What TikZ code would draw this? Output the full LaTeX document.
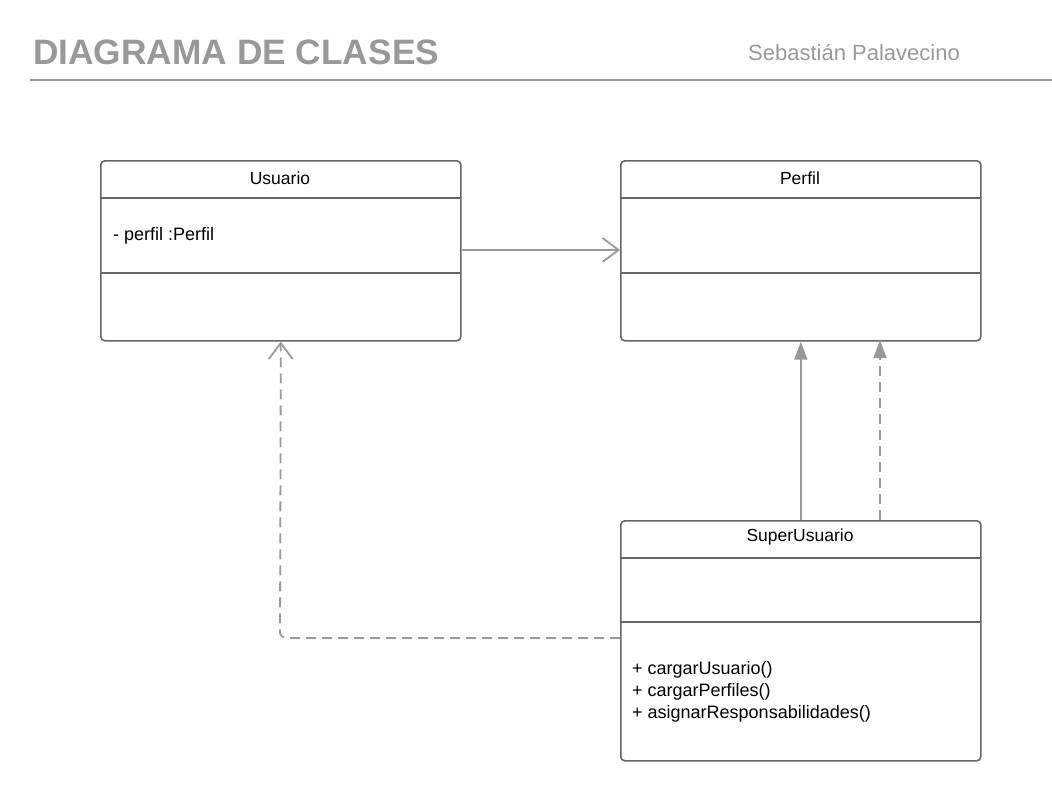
\documentclass[tikz,border=0pt]{standalone}
\usepackage{fontspec}
\setmainfont{Liberation Sans}
\usetikzlibrary{arrows.meta}
\definecolor{boxline}{HTML}{666666}
\definecolor{arrline}{HTML}{999999}
\definecolor{titlecol}{HTML}{999999}
\begin{document}
\begin{tikzpicture}[x=1pt,y=-1pt,
  classbox/.style={draw=boxline,line width=1.6pt,rounded corners=4pt,inner sep=0pt,anchor=north west},
  divider/.style={draw=boxline,line width=1.6pt},
  ctitle/.style={font=\fontsize{17.5}{21}\selectfont,text=black,anchor=center},
  ctext/.style={font=\fontsize{18}{22}\selectfont,text=black,anchor=north west,align=left,inner sep=0pt},
  assoc/.style={draw=arrline,line width=1.8pt,-{Straight Barb[length=16pt,width=24pt,line width=1.8pt]}},
  realize/.style={draw=arrline,line width=1.8pt,dash pattern=on 10pt off 6pt,rounded corners=6pt,-{Straight Barb[length=16pt,width=24pt,line width=1.8pt]}},
  inherit/.style={draw=arrline,line width=1.8pt,-{Triangle[length=18pt,width=13pt]}},
  depend/.style={draw=arrline,line width=1.8pt,dash pattern=on 10pt off 6pt,-{Triangle[length=18pt,width=13pt]}}
]
\useasboundingbox (0,0) rectangle (1052,800);
% header
\node[anchor=base west,inner sep=0pt,text=titlecol,font=\fontsize{35.3}{40}\selectfont\bfseries] (title) at (33,64) {DIAGRAMA DE CLASES};
\node[anchor=base west,inner sep=0pt,text=titlecol,font=\fontsize{22}{26}\selectfont] (author) at (748,60) {Sebastián Palavecino};
\coordinate (hl) at (30,80);
\coordinate (hr) at (1052,80);
\draw[draw=arrline,line width=2pt] (hl) -- (hr);
% Usuario
\node[classbox,minimum width=360pt,minimum height=180pt] (usuario) at (100,160) {};
\draw[divider] (100,198) -- (460,198);
\draw[divider] (100,273) -- (460,273);
\node[ctitle] (usuarioT) at (280,178) {Usuario};
\node[ctext] (usuarioA) at (113,227) {- perfil :Perfil};
% Perfil
\node[classbox,minimum width=360pt,minimum height=180pt] (perfil) at (620,160) {};
\draw[divider] (620,198) -- (980,198);
\draw[divider] (620,273) -- (980,273);
\node[ctitle] (perfilT) at (800,178) {Perfil};
% SuperUsuario
\node[classbox,minimum width=360pt,minimum height=240pt] (super) at (620,520) {};
\draw[divider] (620,558) -- (980,558);
\draw[divider] (620,622) -- (980,622);
\node[ctitle] (superT) at (800,537) {SuperUsuario};
\node[ctext] (superM) at (632,661) {+ cargarUsuario()\\+ cargarPerfiles()\\+ asignarResponsabilidades()};
% connectors
\coordinate (a1) at (usuario.east |- 0,250);
\coordinate (a2) at (perfil.west |- 0,250);
\draw[assoc] (a1) -- (a2);
\coordinate (r1) at (super.west |- 0,638);
\coordinate (r2) at (280,638);
\coordinate (r3) at (usuario.south);
\draw[realize] (r1) -- (r2) -- (r3);
\coordinate (i1) at (super.north);
\coordinate (i2) at (perfil.south);
\draw[inherit] (i1) -- (i2);
\coordinate (d1) at (880,520);
\coordinate (d2) at (880,340);
\draw[depend] (d1) -- (d2);
\end{tikzpicture}
\end{document}
